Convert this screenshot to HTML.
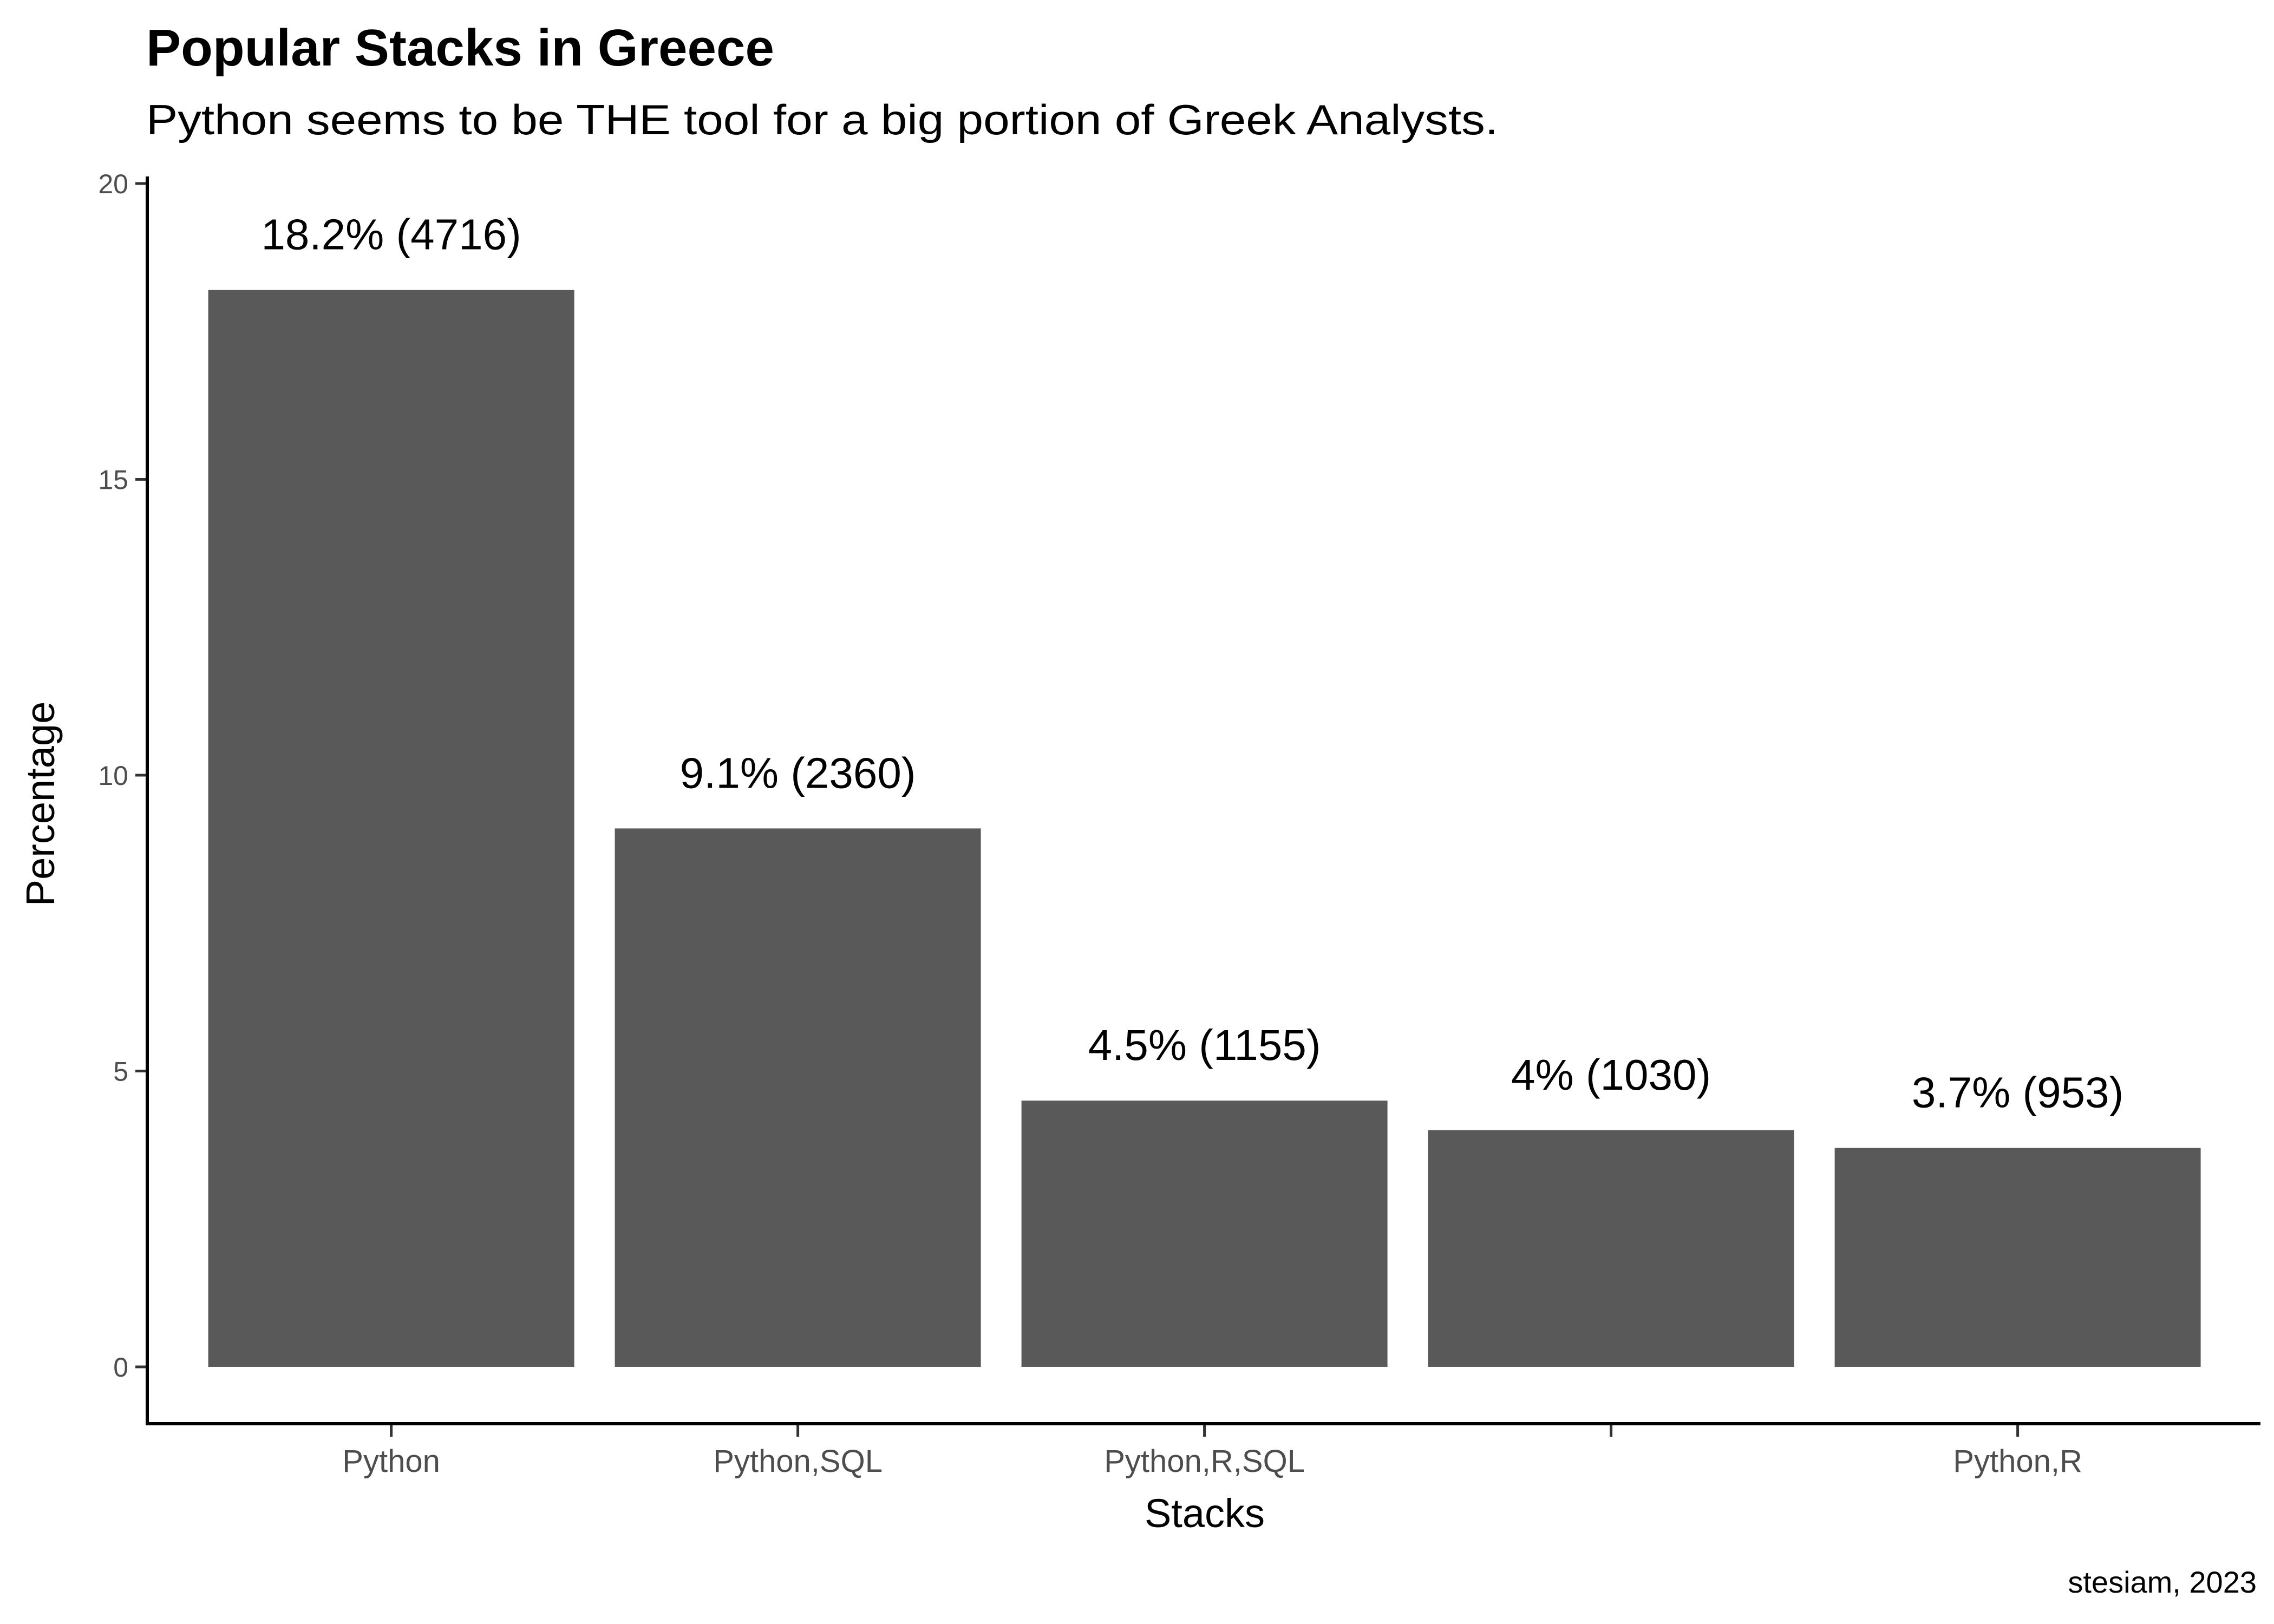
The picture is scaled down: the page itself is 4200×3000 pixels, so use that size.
<!DOCTYPE html>
<html><head><meta charset="utf-8"><style>
html,body{margin:0;padding:0;background:#fff;}
svg{display:block;}
</style></head><body>
<svg width="4200" height="3000" viewBox="0 0 4200 3000" xmlns="http://www.w3.org/2000/svg" id="chart">
<rect x="0" y="0" width="4200" height="3000" fill="#fff"/>
<text x="270" y="121" font-family="Liberation Sans, sans-serif" font-weight="bold" font-size="96" textLength="1160" lengthAdjust="spacingAndGlyphs" fill="#000">Popular Stacks in Greece</text>
<text x="270" y="248" font-family="Liberation Sans, sans-serif" font-size="78" textLength="2497" lengthAdjust="spacingAndGlyphs" fill="#000">Python seems to be THE tool for a big portion of Greek Analysts.</text>
<g id="plot"></g>
<text x="2225" y="2821" text-anchor="middle" font-family="Liberation Sans, sans-serif" font-size="74" fill="#000">Stacks</text>
<text transform="translate(100,1485) rotate(-90)" text-anchor="middle" font-family="Liberation Sans, sans-serif" font-size="74" fill="#000">Percentage</text>
<text x="4168" y="2942" text-anchor="end" font-family="Liberation Sans, sans-serif" font-size="56" fill="#000">stesiam, 2023</text>
</svg>
<script>
const categories = ["Python", "Python,SQL", "Python,R,SQL", "", "Python,R"];
const values = [18.2, 9.1, 4.5, 4.0, 3.7];
const labels = ["18.2% (4716)", "9.1% (2360)", "4.5% (1155)", "4% (1030)", "3.7% (953)"];
const yTicks = [0, 5, 10, 15, 20];

const NS = "http://www.w3.org/2000/svg";
const g = document.getElementById("plot");
const y0 = 2525, pxPerUnit = 109.3;
const xLeft = 272, step = 751, barW = 676;
function yScale(v){ return y0 - v * pxPerUnit; }
function xCenter(i){ return xLeft + step * 0.6 + i * step; }
function mk(tag, attrs){ const e = document.createElementNS(NS, tag); for (const k in attrs) e.setAttribute(k, attrs[k]); g.appendChild(e); return e; }

values.forEach((v, i) => {
  const r = mk("rect", {x: xCenter(i) - barW/2, y: yScale(v), width: barW, height: y0 - yScale(v), fill: "#595959"});
  
  
  const t = mk("text", {x: xCenter(i), y: yScale(v) - 75, "text-anchor": "middle", "font-family": "Liberation Sans, sans-serif", "font-size": "80", fill: "#000"});
  t.textContent = labels[i];
  
  
  const tk = mk("line", {x1: xCenter(i), x2: xCenter(i), y1: 2630, y2: 2654, stroke: "#333", "stroke-width": 5});
  
  
  const tl = mk("text", {x: xCenter(i), y: 2719, "text-anchor": "middle", "font-family": "Liberation Sans, sans-serif", "font-size": "58", fill: "#4d4d4d"});
  tl.textContent = categories[i];
  
  
});

yTicks.forEach(v => {
  const tk = mk("line", {x1: 250, x2: 272, y1: yScale(v), y2: yScale(v), stroke: "#333", "stroke-width": 5});
  
  
  const tl = mk("text", {x: 237, y: yScale(v) + 18, "text-anchor": "end", "font-family": "Liberation Sans, sans-serif", "font-size": "50", fill: "#4d4d4d"});
  tl.textContent = v;
  
  
});

const ya = mk("line", {x1: 272, x2: 272, y1: 326, y2: 2632, stroke: "#000", "stroke-width": 6});


const xa = mk("line", {x1: 269, x2: 4175, y1: 2630, y2: 2630, stroke: "#000", "stroke-width": 6});


</script>
</body></html>
